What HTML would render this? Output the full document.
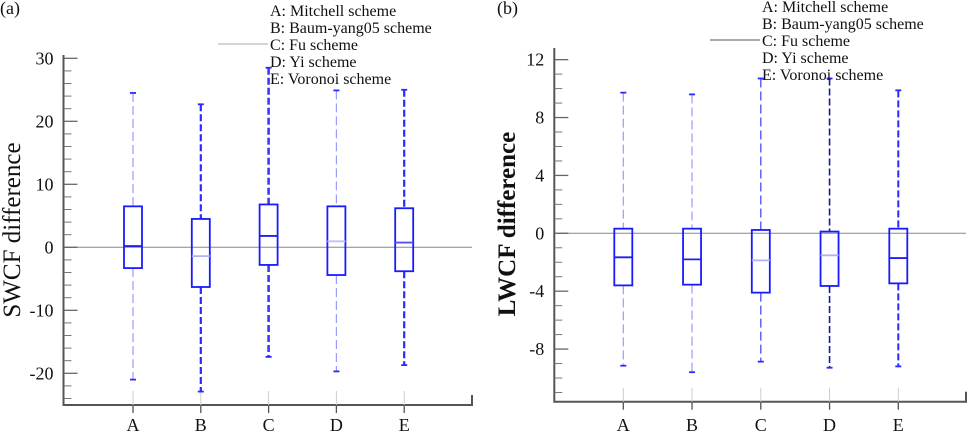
<!DOCTYPE html>
<html><head><meta charset="utf-8"><style>
html,body{margin:0;padding:0;background:#fff;}
svg{display:block;}
svg text{font-family:"Liberation Serif","Times New Roman",Times,"Nimbus Roman","DejaVu Serif",serif;}
</style></head><body>
<svg id="chart" width="968" height="433" viewBox="0 0 968 433"></svg>
<script>
const categories = ["A","B","C","D","E"];
const legendLabels = ["A: Mitchell scheme","B: Baum-yang05 scheme","C: Fu scheme","D: Yi scheme","E: Voronoi scheme"];
// Panel (a) SWCF
const swcfWhiskerHigh = [24.5, 22.7, 28.5, 24.9, 25.0];
const swcfQ3 = [6.5, 4.5, 6.8, 6.5, 6.2];
const swcfMedian = [0.2, -1.4, 1.8, 0.95, 0.75];
const swcfQ1 = [-3.3, -6.3, -2.8, -4.4, -3.8];
const swcfWhiskerLow = [-21.0, -22.9, -17.4, -19.7, -18.7];
const swcfTicks = [-20, -10, 0, 10, 20, 30];
// Panel (b) LWCF
const lwcfWhiskerHigh = [9.72, 9.6, 10.7, 10.7, 9.88];
const lwcfQ3 = [0.32, 0.32, 0.23, 0.12, 0.32];
const lwcfMedian = [-1.66, -1.8, -1.87, -1.52, -1.71];
const lwcfQ1 = [-3.6, -3.55, -4.1, -3.64, -3.46];
const lwcfWhiskerLow = [-9.15, -9.6, -8.87, -9.29, -9.2];
const lwcfTicks = [-8, -4, 0, 4, 8, 12];

const svg = document.getElementById('chart');
const NS = 'http://www.w3.org/2000/svg';
const FONT = '"Liberation Serif", "Times New Roman", Times, serif';
function mk(tag, attrs, parent){
  const e = document.createElementNS(NS, tag);
  for (const k in attrs) e.setAttribute(k, attrs[k]);
  if (tag === 'text') e.style.fontFamily = FONT;
  (parent||svg).appendChild(e);
  return e;
}
const whiskerA = [
  {c:'#9a9aff', w:1.2, d:'9,4'},
  {c:'#2a2aff', w:2.2, d:'7,3'},
  {c:'#3a3aff', w:2.6, d:'7,3'},
  {c:'#9a9aff', w:1.2, d:'9,4'},
  {c:'#2a2aff', w:2.2, d:'7,3'}
];
const whiskerB = [
  {c:'#9a9aff', w:1.2, d:'9,4'},
  {c:'#9a9aff', w:1.2, d:'9,4'},
  {c:'#4a4aff', w:1.3, d:'9,4'},
  {c:'#1a1a99', w:1.6, d:'7,3'},
  {c:'#2a2aff', w:2.0, d:'7,3'}
];
const medianStyleA = ['#2020ee','#b0b0ff','#2020ee','#c0c0ff','#5050ff'];
const medianStyleB = ['#2020ee','#2020ee','#b0b0ff','#b0b0ff','#2020ee'];

function panel(o){
  const g = mk('g', {});
  
  
  const y = v => o.y0 - v * o.pxPerUnit;
  const x = i => o.xs0 + i * o.dx;
  const zl = mk('line', {x1:o.ax, x2:o.axR, y1:y(0), y2:y(0), stroke:'#888', 'stroke-width':1}, g);
  
  
  const axes = mk('path', {d:`M${o.ax},${o.axTop} L${o.ax},${o.axBot} L${o.axR},${o.axBot} L${o.axR},${o.axBot-10}`, fill:'none', stroke:'#555', 'stroke-width':2}, g);
  
  
  for (let v = o.minorStart; v <= o.minorEnd + 1e-9; v += o.minorStep) {
    const isMajor = o.ticks.some(t => Math.abs(t - v) < 1e-9);
    if (isMajor) continue;
    mk('line', {x1:o.ax, x2:o.ax+8, y1:y(v), y2:y(v), stroke:'#777', 'stroke-width':1}, g);
  }
  o.ticks.forEach(t => {
    mk('line', {x1:o.ax, x2:o.ax+14, y1:y(t), y2:y(t), stroke:'#666', 'stroke-width':1.3}, g);
    const tl = mk('text', {x:o.ax-10, y:y(t)+6, 'text-anchor':'end', 'font-size':18, fill:'#111'}, g);
    tl.textContent = String(t);
    
    
  });
  categories.forEach((c, i) => {
    mk('line', {x1:x(i), x2:x(i), y1:o.axBot-14, y2:o.axBot+8, stroke:'#ccc', 'stroke-width':1}, g);
    mk('line', {x1:x(i), x2:x(i), y1:o.axBot, y2:o.axBot+8, stroke:'#555', 'stroke-width':1.3}, g);
    const cl = mk('text', {x:x(i), y:431, 'text-anchor':'middle', 'font-size':18, fill:'#111'}, g);
    cl.textContent = c;
    
    
  });
  categories.forEach((c, i) => {
    const bg = mk('g', {}, g);
    
    
    const ws = o.whisk[i];
    mk('line', {x1:x(i), x2:x(i), y1:y(o.hi[i]), y2:y(o.q3[i]), stroke:ws.c, 'stroke-width':ws.w, 'stroke-dasharray':ws.d}, bg);
    mk('line', {x1:x(i), x2:x(i), y1:y(o.q1[i]), y2:y(o.lo[i]), stroke:ws.c, 'stroke-width':ws.w, 'stroke-dasharray':ws.d}, bg);
    mk('line', {x1:x(i)-3, x2:x(i)+3, y1:y(o.hi[i]), y2:y(o.hi[i]), stroke:'#2a2aff', 'stroke-width':1.8}, bg);
    mk('line', {x1:x(i)-3, x2:x(i)+3, y1:y(o.lo[i]), y2:y(o.lo[i]), stroke:'#2a2aff', 'stroke-width':1.8}, bg);
    mk('rect', {x:x(i)-9, y:y(o.q3[i]), width:18, height:y(o.q1[i])-y(o.q3[i]), fill:'none', stroke:'#1a1aff', 'stroke-width':1.8}, bg);
    mk('line', {x1:x(i)-9, x2:x(i)+9, y1:y(o.med[i]), y2:y(o.med[i]), stroke:o.medColors[i], 'stroke-width':1.8}, bg);
  });
  const at = mk('text', {x:0, y:0, transform:`translate(${o.titleX},${o.titleY}) rotate(-90)`, 'text-anchor':'middle', 'font-size':25, 'font-weight':o.titleWeight, fill:'#111'}, g);
  at.textContent = o.title;
  
  
  const pl = mk('text', {x:o.labelX, y:14, 'font-size':18, fill:'#111'}, g);
  pl.textContent = o.label;
  
  
  const lg = mk('g', {}, g);
  
  
  mk('line', {x1:o.legLineX1, x2:o.legX-2, y1:o.legY0+2*17-6, y2:o.legY0+2*17-6, stroke:o.legLineColor, 'stroke-width':1}, lg);
  legendLabels.forEach((t, i) => {
    const le = mk('text', {x:o.legX, y:o.legY0 + i*17, 'font-size':16, fill:'#111'}, lg);
    le.textContent = t;
    
    
  });
}

panel({name:'panel-a-swcf', label:'(a)', labelX:0, title:'SWCF difference', titleX:20, titleY:230, titleWeight:'normal',
  y0:247.3, pxPerUnit:6.3, ax:63.5, axR:472, axTop:55, axBot:405,
  xs0:133, dx:67.8, ticks:swcfTicks, minorStart:-24, minorEnd:30, minorStep:2,
  hi:swcfWhiskerHigh, q3:swcfQ3, med:swcfMedian, q1:swcfQ1, lo:swcfWhiskerLow, whisk:whiskerA,
  medColors:medianStyleA, legX:270, legY0:16, legLineX1:218, legLineColor:'#aaa'});

panel({name:'panel-b-lwcf', label:'(b)', labelX:497, title:'LWCF difference', titleX:515, titleY:224, titleWeight:'bold',
  y0:233.3, pxPerUnit:14.47, ax:554.3, axR:966, axTop:48, axBot:401.7,
  xs0:623.3, dx:68.75, ticks:lwcfTicks, minorStart:-11, minorEnd:12, minorStep:1,
  hi:lwcfWhiskerHigh, q3:lwcfQ3, med:lwcfMedian, q1:lwcfQ1, lo:lwcfWhiskerLow, whisk:whiskerB,
  medColors:medianStyleB, legX:762, legY0:12, legLineX1:710, legLineColor:'#555'});
</script>
</body></html>
